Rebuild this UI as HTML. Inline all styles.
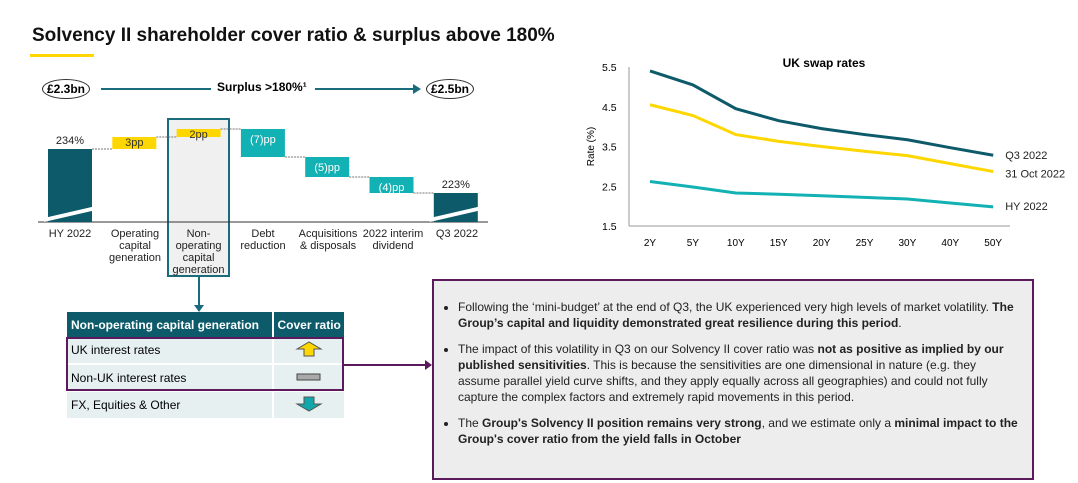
<!DOCTYPE html>
<html><head><meta charset="utf-8"><style>
body{margin:0;width:1078px;height:483px;background:#fff;font-family:"Liberation Sans",sans-serif;position:relative;overflow:hidden}
.a{position:absolute}
.title{left:32px;top:25px;font-size:19px;font-weight:bold;color:#111}
.pill{border:1.5px solid #333;border-radius:50%;font-size:12px;font-weight:bold;width:46px;height:18px;line-height:18px;text-align:center;background:#fff}
.lbl{font-size:11px;text-align:center;color:#222;line-height:12px}
table{border-collapse:collapse;font-size:12px}
.tb{left:432px;top:279px;width:602px;height:201px;background:#eeeded;border:2px solid #5b1a5c;box-sizing:border-box;font-size:12px;color:#222;line-height:16px}
.tb ul{margin:18px 14px 0 8px;padding-left:16px}
.tb li{margin-bottom:10px}
</style></head><body>
<div class="a title">Solvency II shareholder cover ratio &amp; surplus above 180%</div>
<div class="a" style="left:30px;top:54px;width:64px;height:3px;background:#ffd700"></div>
<div class="a pill" style="left:42px;top:79px">£2.3bn</div>
<div class="a pill" style="left:426px;top:79px">£2.5bn</div>
<div class="a" style="left:101px;top:88px;width:110px;height:2px;background:#1a6b7c"></div>
<div class="a" style="left:217px;top:80px;font-size:12px;font-weight:bold">Surplus &gt;180%¹</div>
<div class="a" style="left:315px;top:88px;width:100px;height:2px;background:#1a6b7c"></div>
<div class="a" style="left:413px;top:84px;width:0;height:0;border-left:8px solid #1a6b7c;border-top:5px solid transparent;border-bottom:5px solid transparent"></div>
<div class="a" style="left:167px;top:118px;width:63px;height:159px;background:#f0f0f0;border:2px solid #1a6b7c;box-sizing:border-box"></div>
<div class="a" style="left:198px;top:277px;width:2px;height:30px;background:#1a6b7c"></div>
<div class="a" style="left:194px;top:305px;border-top:7px solid #1a6b7c;border-left:5px solid transparent;border-right:5px solid transparent"></div>
<svg class="a" style="left:0;top:0" width="560" height="280" id="wf"></svg>
<div class="a lbl" style="left:40px;top:228px;width:60px">HY 2022</div>
<div class="a lbl" style="left:103px;top:228px;width:64px">Operating<br>capital<br>generation</div>
<div class="a lbl" style="left:167px;top:228px;width:63px">Non-<br>operating<br>capital<br>generation</div>
<div class="a lbl" style="left:233px;top:228px;width:60px">Debt<br>reduction</div>
<div class="a lbl" style="left:294px;top:228px;width:68px">Acquisitions<br>&amp; disposals</div>
<div class="a lbl" style="left:360px;top:228px;width:66px">2022 interim<br>dividend</div>
<div class="a lbl" style="left:427px;top:228px;width:60px">Q3 2022</div>

<table class="a" style="left:67px;top:312px;width:277px">
<tr style="background:#0c5a6a;color:#fff;font-weight:bold;height:25px"><td style="padding-left:4px;border-right:2px solid #fff">Non-operating capital generation</td><td style="text-align:center">Cover ratio</td></tr>
<tr style="background:#e6f0f0;height:27px"><td style="padding-left:4px;border-right:2px solid #fff">UK interest rates</td><td style="text-align:center"><svg width="32" height="16"><polygon points="4,8 16,1 28,8 21,8 21,15 11,15 11,8" fill="#ffd700" stroke="#555"/></svg></td></tr>
<tr style="background:#e6f0f0;height:27px;border-top:2px solid #fff"><td style="padding-left:4px;border-right:2px solid #fff">Non-UK interest rates</td><td style="text-align:center"><svg width="26" height="10"><rect x="1" y="2" width="23" height="6" fill="#aaa" stroke="#444"/></svg></td></tr>
<tr style="background:#e6f0f0;height:27px;border-top:2px solid #fff"><td style="padding-left:4px;border-right:2px solid #fff">FX, Equities &amp; Other</td><td style="text-align:center"><svg width="32" height="16"><polygon points="11,1 21,1 21,8 28,8 16,15 4,8 11,8" fill="#12a7aa" stroke="#555"/></svg></td></tr>
</table>
<div class="a" style="left:66px;top:337px;width:278px;height:54px;border:2px solid #5b1a5c;box-sizing:border-box"></div>
<div class="a" style="left:344px;top:364px;width:82px;height:2px;background:#5b1a5c"></div>
<div class="a" style="left:425px;top:360px;border-left:7px solid #5b1a5c;border-top:5px solid transparent;border-bottom:5px solid transparent"></div>

<div class="a tb"><ul>
<li>Following the ‘mini-budget’ at the end of Q3, the UK experienced very high levels of market volatility. <b>The Group’s capital and liquidity demonstrated great resilience during this period</b>.</li>
<li>The impact of this volatility in Q3 on our Solvency II cover ratio was <b>not as positive as implied by our published sensitivities</b>. This is because the sensitivities are one dimensional in nature (e.g. they assume parallel yield curve shifts, and they apply equally across all geographies) and could not fully capture the complex factors and extremely rapid movements in this period.</li>
<li>The <b>Group's Solvency II position remains very strong</b>, and we estimate only a <b>minimal impact to the Group's cover ratio from the yield falls in October</b></li>
</ul></div>

<svg class="a" style="left:560px;top:40px" width="518" height="230" id="lc"></svg>

<script>
// waterfall data
const wfLabels=["234%","3pp","2pp","(7)pp","(5)pp","(4)pp","223%"];
const wfStart=234;
const wfDeltas=[3,2,-7,-5,-4];
const wfEnd=223;
// swap data
const tenors=["2Y","5Y","10Y","15Y","20Y","25Y","30Y","40Y","50Y"];
const q3=[5.4,5.05,4.45,4.15,3.95,3.8,3.67,3.47,3.28];
const oct31=[4.55,4.28,3.8,3.63,3.5,3.38,3.27,3.07,2.87];
const hy=[2.62,2.48,2.33,2.3,2.26,2.22,2.18,2.08,1.98];
const yTicks=[1.5,2.5,3.5,4.5,5.5];
const NS="http://www.w3.org/2000/svg";
function mk(p,t,a){const e=document.createElementNS(NS,t);for(const k in a)e.setAttribute(k,a[k]);p.appendChild(e);return e;}
const wf=document.getElementById('wf');
const base=222;
const wy=v=>149+(234-v)*4;
const wx=i=>48+i*64.3;
const bw=44;
mk(wf,'line',{x1:38,y1:base,x2:488,y2:base,stroke:'#333','stroke-width':1});
function totalBar(i,v,lbl,name){
  const r=mk(wf,'rect',{x:wx(i),y:wy(v),width:bw,height:base-wy(v),fill:'#0c5a6a'});
  
  
  mk(wf,'polygon',{points:`${wx(i)-4},${base-4} ${wx(i)+bw+4},${base-16} ${wx(i)+bw+4},${base-12} ${wx(i)-4},${base}`,fill:'#fff'});
  const t=mk(wf,'text',{x:wx(i)+bw/2,y:wy(v)-5,'text-anchor':'middle','font-size':11,fill:'#222'});t.textContent=lbl;
}
totalBar(0,wfStart,wfLabels[0],'bar-hy-2022');
let cur=wfStart;
wfDeltas.forEach((d,k)=>{
  const i=k+1,nv=cur+d;
  const top=wy(Math.max(cur,nv)),bot=wy(Math.min(cur,nv));
  mk(wf,'line',{x1:wx(i-1)+bw,y1:wy(cur),x2:wx(i),y2:wy(cur),stroke:'#777','stroke-dasharray':'2,1'});
  const r=mk(wf,'rect',{x:wx(i),y:top,width:bw,height:bot-top,fill:d>0?'#ffd700':'#12b1b3'});
  
  
  const t=mk(wf,'text',{x:wx(i)+bw/2,y:d>0?top+9:top+14,'text-anchor':'middle','font-size':11,fill:d>0?'#333':'#fff'});t.textContent=wfLabels[i];
  cur=nv;
});
mk(wf,'line',{x1:wx(5)+bw,y1:wy(cur),x2:wx(6),y2:wy(cur),stroke:'#777','stroke-dasharray':'2,1'});
totalBar(6,wfEnd,wfLabels[6],'bar-q3-2022');
const lc=document.getElementById('lc');
const X=i=>90+i*42.9;
const Y=v=>27+(5.5-v)*39.75;
mk(lc,'line',{x1:69,y1:Y(5.5),x2:69,y2:Y(1.5),stroke:'#999'});
mk(lc,'line',{x1:69,y1:Y(1.5),x2:450,y2:Y(1.5),stroke:'#999'});
const tt=mk(lc,'text',{x:264,y:27,'text-anchor':'middle','font-size':12,'font-weight':'bold'});tt.textContent='UK swap rates';
yTicks.forEach(v=>{const t=mk(lc,'text',{x:42,y:Y(v)+4,'font-size':10.5});t.textContent=v.toFixed(1);});
tenors.forEach((c,i)=>{const t=mk(lc,'text',{x:X(i),y:206,'text-anchor':'middle','font-size':10});t.textContent=c;});
const yl=mk(lc,'text',{transform:`translate(34,${Y(3.5)}) rotate(-90)`,'text-anchor':'middle','font-size':10});yl.textContent='Rate (%)';
[[q3,'#0c5a6a','Q3 2022','line-q3-2022'],[oct31,'#ffd700','31 Oct 2022','line-31-oct-2022'],[hy,'#12b1b3','HY 2022','line-hy-2022']].forEach(([s,c,n,nm])=>{
  const p=mk(lc,'polyline',{points:s.map((v,i)=>X(i)+','+Y(v)).join(' '),fill:'none',stroke:c,'stroke-width':3});
  
  
  const t=mk(lc,'text',{x:X(8)+12,y:Y(s[8])+(n==='Q3 2022'?4:(n==='HY 2022'?3:6)),'font-size':11,fill:'#222'});t.textContent=n;
});
</script>
</body></html>
